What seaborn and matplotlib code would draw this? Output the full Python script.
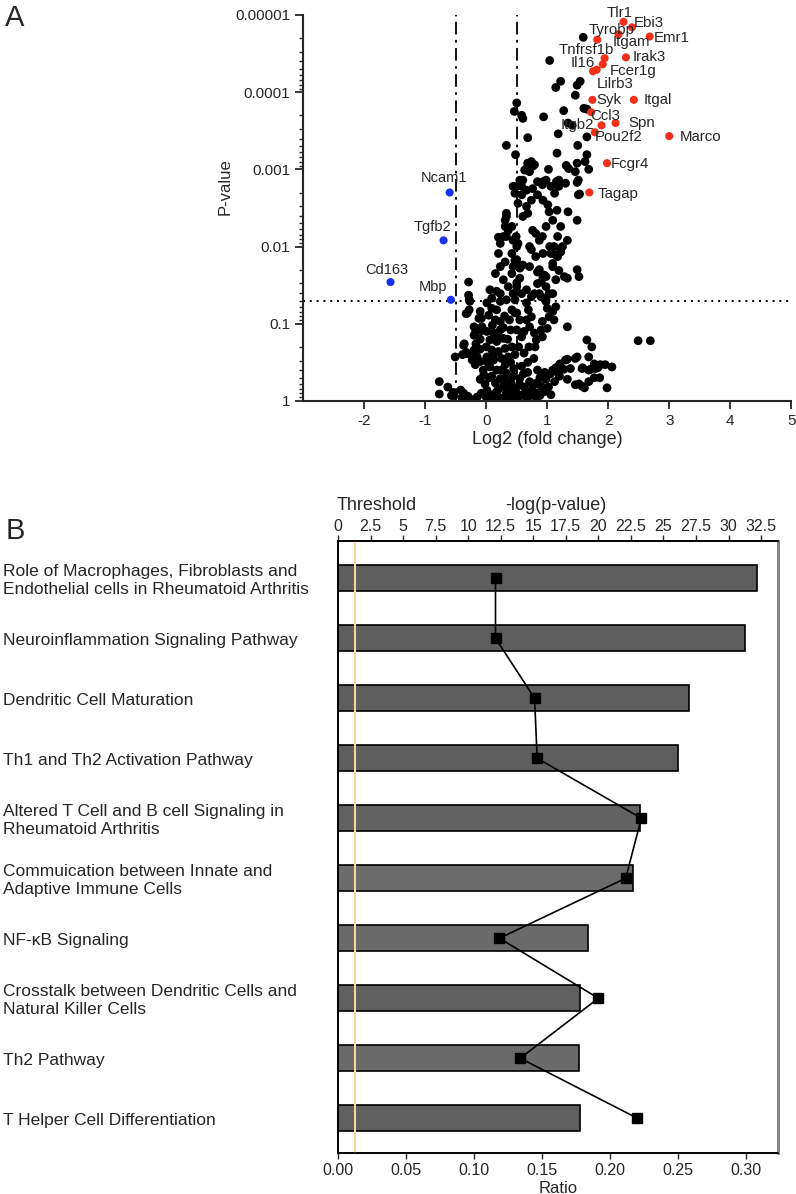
import numpy as np
import pandas as pd
import matplotlib
matplotlib.use('Agg')
import matplotlib.pyplot as plt
import matplotlib.transforms as mtransforms
from matplotlib.ticker import FixedLocator, LogLocator, NullFormatter, FixedFormatter
import seaborn as sns

# ---------------- panel A: volcano plot ----------------
# labelled up-regulated genes (log2 fold change, -log10 p)
up_genes = ['Tlr1', 'Ebi3', 'Tyrobp', 'Itgam', 'Emr1', 'Tnfrsf1b', 'Irak3', 'Fcer1g', 'Il16',
            'Lilrb3', 'Syk', 'Itgal', 'Ccl3', 'Spn', 'Itgb2', 'Pou2f2', 'Marco', 'Fcgr4', 'Tagap']
up_fc = [2.25, 2.39, 1.82, 2.17, 2.68, 1.94, 2.29, 1.91, 1.75, 1.81, 1.74, 2.42, 1.72, 2.12, 1.89, 1.78, 3.00, 1.98, 1.69]
up_logp = [4.91, 4.84, 4.68, 4.75, 4.72, 4.44, 4.45, 4.36, 4.27, 4.29, 3.90, 3.90, 3.74, 3.60, 3.57, 3.48, 3.43, 3.08, 2.70]
# label offsets in pixels (dx, dy)
up_offsets = [(-4, 9), (17, 4), (14, 10), (13, -8), (22, -1), (-18, 8), (23, 0), (30, -7), (-10, 8),
              (18, -14), (16, 0), (24, 0), (14, -4), (26, 0), (-24, 0), (24, -5), (31, -1), (23, -1), (29, -2)]

down_genes = ['Ncam1', 'Tgfb2', 'Cd163', 'Mbp']
down_fc = [-0.60, -0.70, -1.57, -0.58]
down_logp = [2.70, 2.08, 1.54, 1.31]
down_offsets = [(-6, 14), (-11, 13), (-4, 12), (-18, 13)]

# all other genes as (log2 fold change, -log10 p)
other_genes = [
    (1.59, 4.71), (1.04, 4.41), (1.22, 4.14), (1.14, 4.06), (1.54, 4.14), (1.49, 4.09), (1.46, 3.96),
    (0.50, 3.86), (0.46, 3.75), (0.58, 3.70), (0.60, 3.66), (0.94, 3.68), (1.27, 3.76), (1.60, 3.79),
    (1.65, 3.78), (1.34, 3.60), (1.41, 3.57), (0.68, 3.41), (1.18, 3.46), (1.65, 3.42), (0.33, 3.31),
    (1.50, 3.31), (0.48, 3.19), (1.16, 3.21), (1.65, 3.19), (0.68, 3.08), (0.79, 3.06), (0.66, 3.01),
    (0.76, 3.04), (0.71, 2.97), (1.02, 3.00), (1.31, 3.05), (1.49, 3.08), (1.46, 2.97), (1.68, 3.00),
    (0.55, 2.86), (0.44, 2.78), (0.58, 2.78), (0.92, 2.80), (0.84, 2.84), (1.15, 2.84), (1.30, 2.82),
    (1.49, 2.83), (1.53, 2.68), (1.34, 2.45), (1.16, 2.47), (1.35, 3.01), (1.62, 3.10),
    (0.74, 3.10), (0.63, 2.99), (0.93, 2.84), (0.98, 2.86), (1.06, 2.78), (1.19, 2.86), (1.12, 2.69),
    (1.19, 2.78), (1.51, 2.86), (1.51, 2.67), (0.50, 2.78), (0.47, 2.69), (0.60, 2.86), (0.58, 2.67),
    (0.52, 2.56), (0.66, 2.73), (0.76, 2.75), (0.84, 2.67), (0.93, 2.60), (1.01, 2.54), (1.03, 2.45),
    (1.09, 2.34), (1.22, 2.26), (1.17, 2.13), (1.11, 2.00), (1.22, 1.96), (1.06, 1.91), (0.66, 2.52),
    (0.74, 2.60), (0.68, 2.43), (0.60, 2.39), (0.33, 2.43), (0.31, 2.34), (0.36, 2.21), (0.28, 2.13),
    (0.23, 2.04), (0.20, 1.91), (0.31, 1.80), (0.23, 1.74), (0.15, 1.65), (0.28, 1.57), (0.36, 1.48),
    (0.23, 1.39), (0.33, 1.31), (0.42, 1.18), (0.50, 1.14), (0.42, 2.26), (0.44, 2.08), (0.50, 2.00),
    (0.42, 1.91), (0.47, 1.82), (0.42, 1.65), (0.50, 1.53), (0.44, 1.39), (0.81, 2.17), (0.87, 2.08),
    (0.98, 2.26), (1.04, 2.00), (0.93, 1.91), (0.74, 1.96), (0.81, 1.87), (0.71, 1.74), (0.84, 1.67),
    (1.09, 1.74), (1.19, 1.69), (1.14, 1.57), (1.28, 1.61), (0.93, 1.61), (0.98, 1.48), (1.09, 1.39),
    (0.87, 1.39), (1.49, 1.70), (1.52, 1.61), (1.33, 1.59), (-0.29, 1.54), (-0.28, 1.31), (-0.28, 1.18),
    (1.49, 2.34), (1.33, 2.08), (1.25, 2.00), (0.71, 2.00), (1.17, 1.87), (1.09, 1.78), (0.44, 1.74),
    (0.55, 1.74), (0.84, 1.52), (0.98, 1.61), (0.66, 1.44), (0.74, 1.35), (1.03, 1.39), (0.98, 1.33),
    (0.76, 2.21), (0.92, 2.13), (0.49, 2.13), (0.52, 2.04), (0.33, 2.13), (0.20, 2.12), (0.33, 2.39),
    (0.31, 2.26),
    (-0.29, 1.37), (-0.27, 1.29), (-0.31, 1.14), (-0.10, 1.16), (-0.12, 1.07), (-0.20, 0.96),
    (-0.18, 0.88), (-0.37, 0.72), (-0.31, 0.61), (-0.39, 0.60), (-0.51, 0.57), (-0.20, 0.66),
    (-0.15, 0.57), (-0.23, 0.53), (-0.10, 0.51), (-0.18, 0.47), (-0.77, 0.25), (-0.77, 0.09),
    (-0.63, 0.18), (-0.53, 0.07), (-0.42, 0.14), (-0.37, 0.10), (0.06, 1.44), (0.17, 1.42), (0.09, 1.33),
    (0.23, 1.29), (0.01, 1.27), (0.09, 1.20), (0.17, 1.18), (0.04, 1.11), (0.15, 1.05), (0.23, 1.03),
    (-0.07, 0.96), (0.01, 0.90), (0.12, 0.88), (0.23, 0.92), (0.06, 0.79), (0.17, 0.77), (0.28, 0.81),
    (0.00, 0.70), (0.09, 0.66), (0.20, 0.64), (0.31, 0.68), (0.01, 0.57), (0.12, 0.53), (0.25, 0.55),
    (0.36, 0.57), (0.06, 0.44), (0.17, 0.40), (0.31, 0.47), (-0.04, 0.34), (0.09, 0.32), (0.23, 0.29),
    (0.33, 0.36), (0.44, 0.32), (0.55, 0.29), (0.15, 0.23), (0.28, 0.19), (0.41, 0.23), (0.55, 0.21),
    (0.01, 0.14), (0.17, 0.12), (0.33, 0.10), (0.50, 0.10), (0.66, 0.12), (0.76, 0.19), (0.82, 0.10),
    (-0.01, 0.06), (0.23, 0.04), (0.44, 0.06), (0.66, 0.04), (0.82, 0.04),
    (0.50, 1.83), (0.55, 1.72), (0.60, 1.76), (0.55, 1.59), (0.50, 1.48), (0.58, 1.39), (0.47, 1.31),
    (0.66, 1.27), (0.69, 1.18), (0.74, 1.09), (0.47, 1.14), (0.55, 1.05), (0.50, 0.92), (0.58, 0.83),
    (0.53, 0.70), (0.71, 0.96), (0.79, 0.88), (0.87, 1.70), (0.95, 1.63), (0.90, 1.54), (0.79, 1.39),
    (0.90, 1.35), (0.98, 1.29), (1.00, 1.20), (1.09, 1.16), (1.14, 1.22), (1.03, 1.09), (1.11, 1.05),
    (0.92, 1.03), (1.00, 0.94), (0.90, 0.92), (0.82, 0.79), (0.92, 0.83), (1.33, 0.96), (1.14, 1.89),
    (1.22, 1.93), (1.65, 0.79), (1.73, 0.70), (1.30, 0.53), (1.46, 0.55), (1.57, 0.42), (1.68, 0.40),
    (1.79, 0.42), (1.38, 0.42), (1.20, 0.47), (1.09, 0.40), (1.00, 0.34), (1.87, 0.47), (1.95, 0.47),
    (2.06, 0.44), (1.46, 0.21), (1.57, 0.19), (1.68, 0.25), (0.71, 0.25), (0.82, 0.23), (0.90, 0.19),
    (1.20, 0.32), (2.49, 0.78), (2.69, 0.78), (1.68, 0.57), (1.77, 0.48), (1.83, 0.43), (1.77, 0.30),
    (1.86, 0.30), (1.98, 0.17), (1.49, 0.57), (1.33, 0.54), (1.21, 0.48), (1.14, 0.43), (1.27, 0.41),
    (1.58, 0.43), (1.71, 0.41), (1.52, 0.22), (1.61, 0.17), (1.33, 0.28), (1.17, 0.37), (1.05, 0.35),
    (0.96, 0.37), (0.84, 0.40), (0.68, 0.37), (0.61, 0.35), (-0.36, 0.74), (-0.33, 0.63), (-0.20, 0.63),
    (-0.17, 0.74), (-0.10, 0.67), (-0.20, 0.85), (-0.10, 0.80), (-0.08, 0.91), (-0.33, 1.13),
    (-0.08, 1.07), (-0.57, 0.07), (-0.54, 0.11), (-0.40, 0.04), (-0.30, 0.06), (-0.25, 0.02),
    (-0.15, 0.05), (-0.08, 0.10), (0.05, 0.02), (0.10, 0.08), (0.14, 0.01), (0.20, 0.15), (0.28, 0.03),
    (0.36, 0.05), (0.38, 0.15), (0.48, 0.16), (0.52, 0.03), (0.60, 0.08), (0.70, 0.06), (0.75, 0.14),
    (0.88, 0.07), (0.95, 0.12), (1.02, 0.18), (1.06, 0.08), (1.12, 0.25), (0.98, 0.28), (0.88, 0.30),
    (0.62, 0.18), (0.58, 0.45), (0.68, 0.50), (0.78, 0.55), (0.45, 0.42), (0.40, 0.50), (0.05, 0.30),
    (-0.02, 0.22), (-0.10, 0.28), (-0.05, 0.40), (0.12, 0.60), (0.25, 0.40), (0.33, 0.26), (0.02, 0.50),
    (0.18, 0.85), (0.28, 0.95), (0.10, 0.98), (0.35, 0.80), (0.40, 0.92), (0.38, 1.05), (0.30, 1.10),
    (0.42, 0.70), (0.47, 0.60), (0.62, 0.62), (0.70, 0.70), (0.80, 0.70), (0.62, 0.90), (0.66, 1.05),
]
other_fc = [g[0] for g in other_genes]
other_logp = [g[1] for g in other_genes]

# ---------------- panel B: pathways ----------------
pathways = ['Role of Macrophages, Fibroblasts and\nEndothelial cells in Rheumatoid Arthritis',
            'Neuroinflammation Signaling Pathway',
            'Dendritic Cell Maturation',
            'Th1 and Th2 Activation Pathway',
            'Altered T Cell and B cell Signaling in\nRheumatoid Arthritis',
            'Commuication between Innate and\nAdaptive Immune Cells',
            'NF-\u03baB Signaling',
            'Crosstalk between Dendritic Cells and\nNatural Killer Cells',
            'Th2 Pathway',
            'T Helper Cell Differentiation']
ratio = [0.308, 0.299, 0.258, 0.250, 0.222, 0.217, 0.184, 0.178, 0.177, 0.178]
neg_log_p = [12.1, 12.1, 15.1, 15.3, 23.3, 22.1, 12.4, 20.0, 14.0, 23.0]
bar_colors = ['#5e5e5e', '#5e5e5e', '#5e5e5e', '#5e5e5e', '#626262',
              '#6c6c6c', '#6a6a6a', '#5f5f5f', '#6a6a6a', '#5f5f5f']
threshold = 1.3

sns.set_style('ticks')
plt.rcParams['font.family'] = ['Liberation Sans', 'DejaVu Sans']
plt.rcParams['axes.unicode_minus'] = False

fig = plt.figure(figsize=(7.96, 11.94), dpi=100)

# ---- A ----
ax1 = fig.add_axes([0.381, 0.6642, 0.613, 0.3233])
df_other = pd.DataFrame({'fc': other_fc, 'p': 10 ** (-np.array(other_logp))})
df_up = pd.DataFrame({'fc': up_fc, 'p': 10 ** (-np.array(up_logp))})
df_down = pd.DataFrame({'fc': down_fc, 'p': 10 ** (-np.array(down_logp))})

ax1.axvline(-0.5, color='black', lw=1.3, linestyle=(0, (7, 3, 1.5, 3)), zorder=1)
ax1.axvline(0.5, color='black', lw=1.3, linestyle=(0, (7, 3, 1.5, 3)), zorder=1)
ax1.axhline(0.05, color='black', lw=1.4, linestyle=(0, (1, 2.5)), zorder=1)

sns.scatterplot(data=df_other, x='fc', y='p', color='black', s=40, edgecolor='none', ax=ax1, zorder=2)
sns.scatterplot(data=df_up, x='fc', y='p', color='#f03018', s=34, edgecolor='none', ax=ax1, zorder=3)
sns.scatterplot(data=df_down, x='fc', y='p', color='#1830f0', s=34, edgecolor='none', ax=ax1, zorder=3)

for g, x, lp, (dx, dy) in zip(up_genes, up_fc, up_logp, up_offsets):
    ax1.annotate(g, (x, 10 ** -lp), xytext=(dx, dy), textcoords='offset pixels',
                 ha='center', va='center', fontsize=10.8, zorder=4)
for g, x, lp, (dx, dy) in zip(down_genes, down_fc, down_logp, down_offsets):
    ax1.annotate(g, (x, 10 ** -lp), xytext=(dx, dy), textcoords='offset pixels',
                 ha='center', va='center', fontsize=10.5, zorder=4)

ax1.set_yscale('log')
ax1.set_ylim(1, 1e-5)
ax1.set_xlim(-3, 5)
ax1.set_xticks(range(-2, 6))
ax1.yaxis.set_major_locator(FixedLocator([1e-5, 1e-4, 1e-3, 1e-2, 1e-1, 1]))
ax1.yaxis.set_major_formatter(FixedFormatter(['0.00001', '0.0001', '0.001', '0.01', '0.1', '1']))
ax1.yaxis.set_minor_locator(LogLocator(base=10, subs=np.arange(2, 10)))
ax1.yaxis.set_minor_formatter(NullFormatter())
ax1.tick_params(axis='both', labelsize=11, width=1.3, length=6, direction='out')
ax1.tick_params(axis='y', which='minor', width=1, length=3)
ax1.set_xlabel('Log2 (fold change)', fontsize=13, labelpad=2)
ax1.set_ylabel('P-value', fontsize=12)
ax1.yaxis.set_label_coords(-0.145, 0.555)
for s in ['top', 'right']:
    ax1.spines[s].set_visible(False)
for s in ['left', 'bottom']:
    ax1.spines[s].set_linewidth(1.5)

# ---- B ----
ax2 = fig.add_axes([0.4246, 0.0343, 0.5528, 0.5126])
df_b = pd.DataFrame({'pathway': pathways, 'ratio': ratio})
sns.barplot(data=df_b, x='ratio', y='pathway', hue='pathway', palette=bar_colors, legend=False,
            orient='h', width=0.43, edgecolor='black', linewidth=1.2, ax=ax2)
ax2.set_xlim(0, 0.3235)
ax2.set_ylim(9.58, -0.62)
ax2.set_xticks(np.arange(0, 0.31, 0.05))
ax2.set_xticklabels(['%.2f' % v for v in np.arange(0, 0.31, 0.05)])
ax2.set_yticks([])
ax2.set_ylabel('')
ax2.set_xlabel('Ratio', fontsize=12, labelpad=2)
ax2.tick_params(axis='x', labelsize=11.5, length=4, width=1)

trans = mtransforms.blended_transform_factory(fig.transFigure, ax2.transData)
for i, name in enumerate(pathways):
    ax2.text(0.004, i + 0.03, name, transform=trans, ha='left', va='center',
             fontsize=12.5, linespacing=1.25)

tw = ax2.twiny()
tw.set_xlim(0, 33.8)
tw.axvline(threshold, color='#f7d3a5', lw=1.5, zorder=1)
tw.plot(neg_log_p, range(len(neg_log_p)), color='black', lw=1.2, marker='s', markersize=7.5, zorder=3)
tw.set_xticks(np.arange(0, 33, 2.5))
tw.set_xticklabels(['%g' % v for v in np.arange(0, 33, 2.5)])
tw.tick_params(axis='x', labelsize=11.5, length=4, width=1, pad=1)

for a in [ax2, tw]:
    for s in ['top', 'left', 'bottom']:
        a.spines[s].set_linewidth(1.2)
        a.spines[s].set_color('black')
    a.spines['right'].set_color('#808080')
    a.spines['right'].set_linewidth(1.8)

fig.text(0.4234, 0.577, 'Threshold', fontsize=13, ha='left', va='center')
fig.text(0.6985, 0.577, '-log(p-value)', fontsize=13, ha='center', va='center')

fig.text(0.019, 0.985, 'A', fontsize=21, ha='center', va='center')
fig.text(0.019, 0.555, 'B', fontsize=21, ha='center', va='center')

plt.savefig('out.png', dpi=100)
